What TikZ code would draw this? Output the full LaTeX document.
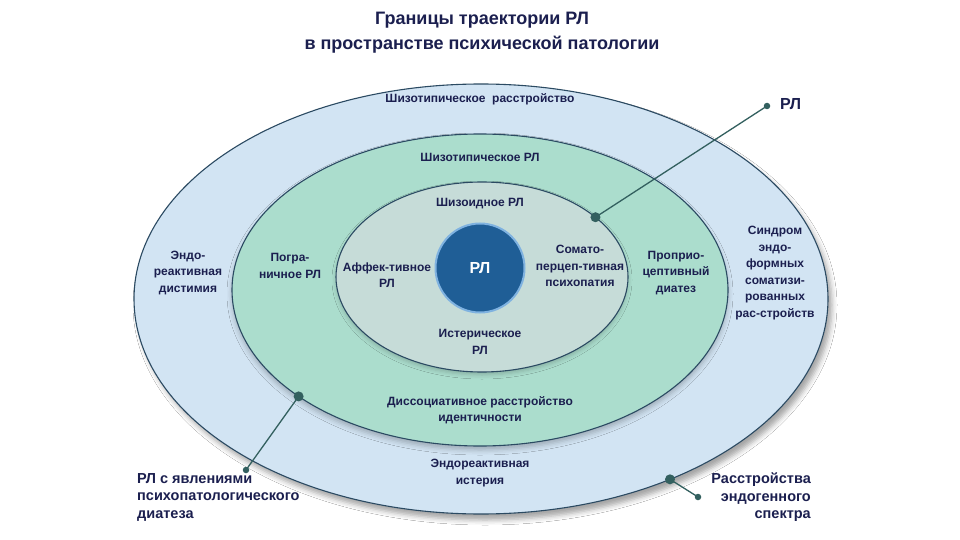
\documentclass[tikz,border=0pt]{standalone}
\usepackage{fontspec}
\setmainfont{Liberation Sans}
\usetikzlibrary{calc,shadows.blur}
\definecolor{navy}{HTML}{1B1F4F}
\definecolor{outerfill}{HTML}{D2E4F3}
\definecolor{midfill}{HTML}{ABDDCD}
\definecolor{innerfill}{HTML}{C6DCD8}
\definecolor{rimline}{HTML}{2B4A62}
\definecolor{core}{HTML}{1F5E96}
\definecolor{corerim}{HTML}{7FB2E0}
\definecolor{conn}{HTML}{33605F}
\begin{document}
\begin{tikzpicture}[x=1pt,y=-1pt,
  lbl/.style={font=\bfseries\fontsize{12}{16.5}\selectfont, text=navy, align=center, inner sep=0pt},
  biglbl/.style={font=\bfseries\fontsize{14.5}{17.5}\selectfont, text=navy, inner sep=0pt},
  ttl/.style={font=\bfseries\fontsize{18}{25}\selectfont, text=navy, align=center, inner sep=0pt},
  rim/.style={draw=rimline, line width=1.1pt},
  link/.style={draw=conn, line width=1.3pt},
  bigdot/.style={fill=conn, draw=none, circle, minimum size=10pt, inner sep=0pt},
  enddot/.style={fill=conn, draw=none, circle, minimum size=6.5pt, inner sep=0pt}]
\useasboundingbox (0,0) rectangle (960,540);
\fill[white] (0,0) rectangle (960,540);

% title
\node[ttl] (title) at (482,33) {Границы траектории РЛ\\в пространстве психической патологии};

% ellipses
\coordinate (co) at (481,299);
\coordinate (cm) at (480,290);
\coordinate (ci) at (482,277);
\path[rim, fill=outerfill, blur shadow={shadow xshift=4pt, shadow yshift=-6pt, shadow opacity=35, shadow blur radius=5pt}] (co) ellipse [x radius=347, y radius=215];
\path[rim, fill=midfill, blur shadow={shadow xshift=0pt, shadow yshift=-4pt, shadow opacity=25, shadow blur radius=5pt}] (cm) ellipse [x radius=248, y radius=156];
\path[rim, fill=innerfill, blur shadow={shadow xshift=0pt, shadow yshift=-3pt, shadow opacity=20, shadow blur radius=4pt}] (ci) ellipse [x radius=146, y radius=95];
\node[circle, fill=core, draw=corerim, line width=2pt, minimum size=89pt, inner sep=0pt,
      font=\bfseries\fontsize{16}{18}\selectfont, text=white] (core) at (480,268) {РЛ};

% ring labels
\node[lbl] (l1) at (480,99) {Шизотипическое\ \ расстройство};
\node[lbl] (l2) at (480,157) {Шизотипическое РЛ};
\node[lbl] (l3) at (480,204) {Шизоидное РЛ};
\node[lbl] (l4) at (188,273) {Эндо-\\реактивная\\дистимия};
\node[lbl] (l5) at (290,266) {Погра-\\ничное РЛ};
\node[lbl] (l6) at (387,275) {Аффек-тивное\\РЛ};
\node[lbl] (l7) at (580,266) {Сомато-\\перцеп-тивная\\психопатия};
\node[lbl] (l8) at (676,273) {Проприо-\\цептивный\\диатез};
\node[lbl] (l9) at (775,273) {Синдром\\эндо-\\формных\\соматизи-\\рованных\\рас-стройств};
\node[lbl] (l10) at (480,342) {Истерическое\\РЛ};
\node[lbl] (l11) at (480,410) {Диссоциативное расстройство\\идентичности};
\node[lbl] (l12) at (480,473) {Эндореактивная\\истерия};

% connectors
\node[bigdot] (d1) at ($(ci)+(-39:146 and 95)$) {};
\node[enddot] (e1) at (767,106) {};
\node[bigdot] (d2) at ($(cm)+(137:248 and 156)$) {};
\node[enddot] (e2) at (246,470) {};
\node[bigdot] (d3) at ($(co)+(57:347 and 215)$) {};
\node[enddot] (e3) at (698,497) {};
\draw[link] (d1.center) -- (e1.center);
\draw[link] (d2.center) -- (e2.center);
\draw[link] (d3.center) -- (e3.center);

\node[font=\bfseries\fontsize{16}{18}\selectfont, text=navy, anchor=west, inner sep=0pt] (t1) at (780,104) {РЛ};
\node[biglbl, align=left, anchor=north west] (t2) at (137,473) {РЛ с явлениями\\психопатологического\\диатеза};
\node[biglbl, align=right, anchor=north east] (t3) at (811,473) {Расстройства\\эндогенного\\спектра};
\end{tikzpicture}
\end{document}
